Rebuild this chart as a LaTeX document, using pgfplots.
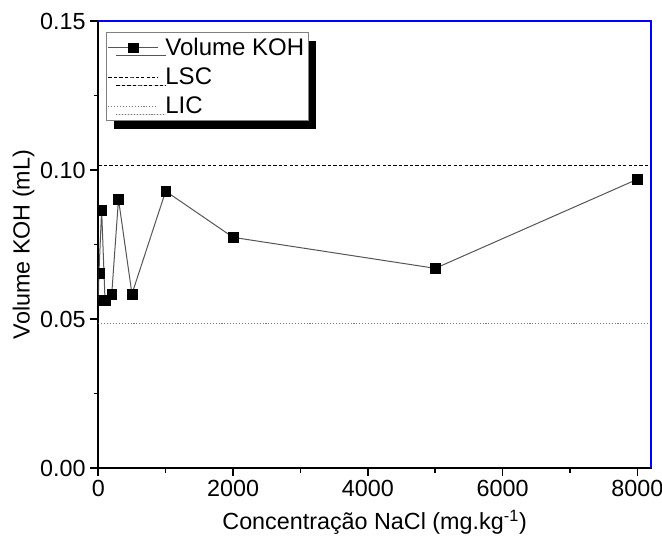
\documentclass[border=0pt]{standalone}
\usepackage{pgfplots}
\pgfplotsset{compat=1.18}
\usepackage{fontspec}
\setmainfont{Liberation Sans}
\usetikzlibrary{shadows}
\definecolor{dataline}{RGB}{85,85,85}
\definecolor{dotgray}{RGB}{120,120,120}
\begin{document}
\begin{tikzpicture}
\useasboundingbox (-73.7pt,-52.5pt) rectangle (422.8pt,351pt);
\begin{axis}[
  name=ax,
  at={(0,0)}, anchor=south west,
  scale only axis,
  width=414.5pt, height=335.25pt,
  xmin=0, xmax=8200,
  ymin=0, ymax=0.15,
  xtick={0,2000,4000,6000,8000},
  minor xtick={1000,3000,5000,7000},
  ytick={0,0.05,0.10,0.15},
  minor ytick={0.025,0.075,0.125},
  xtick pos=left, ytick pos=left,
  tick align=outside,
  major tick length=6pt, minor tick length=3.5pt,
  every tick/.style={black, line width=1.2pt},
  axis line style={black, line width=1.5pt},
  scaled x ticks=false, scaled y ticks=false,
  xticklabel style={/pgf/number format/.cd, fixed, 1000 sep={}},
  yticklabel style={/pgf/number format/.cd, fixed, fixed zerofill, precision=2},
  /pgf/number format/assume math mode=true,
  tick label style={font=\fontsize{17.5}{20}\selectfont},
  label style={font=\fontsize{17.5}{20}\selectfont},
  xlabel={Concentração NaCl (mg.kg\textsuperscript{-1})},
  ylabel={Volume KOH (mL)},
  xlabel style={at={(axis description cs:0.5,-0.121)}, anchor=center},
  ylabel style={at={(axis description cs:-0.135,0.5)}, anchor=center},
  clip marker paths=true,
  legend cell align=left,
  legend style={
    at={(0.014,0.975)}, anchor=north west,
    draw=gray, line width=0.6pt, fill=white,
    drop shadow={shadow xshift=6pt, shadow yshift=-6pt, fill=black, opacity=1},
    font=\fontsize{18}{20}\selectfont,
    inner xsep=1pt, inner ysep=2pt,
    row sep=3.75pt,
  },
  legend image code/.code={%
    \draw[mark repeat=2,mark phase=2,#1] plot coordinates {(0pt,0pt) (18.5pt,0pt) (37pt,0pt)};
    \path (40.5pt,0pt);},
]
\addplot[color=dataline, line width=0.75pt, mark=square*, mark size=3.6pt,
  mark options={solid, fill=black, draw=black, line width=0.3pt}]
  coordinates {
  (0,0.0564) (10,0.0654) (50,0.0866) (100,0.0564) (200,0.0584)
  (300,0.0902) (500,0.0584) (1000,0.0929) (2000,0.0774) (5000,0.0670) (8000,0.0969)
  };
\addlegendentry{Volume KOH}
\addplot[black, line width=0.75pt, dash pattern=on 2.5pt off 1.6pt]
  coordinates {(0,0.1016) (8200,0.1016)};
\addlegendentry{LSC}
\addplot[dotgray, line width=0.75pt, dash pattern=on 0.8pt off 1.4pt]
  coordinates {(0,0.0486) (8200,0.0486)};
\addlegendentry{LIC}
\end{axis}
\draw[blue, line width=1.5pt] (ax.north west) -- (ax.north east) -- (ax.south east);
\end{tikzpicture}
\end{document}
